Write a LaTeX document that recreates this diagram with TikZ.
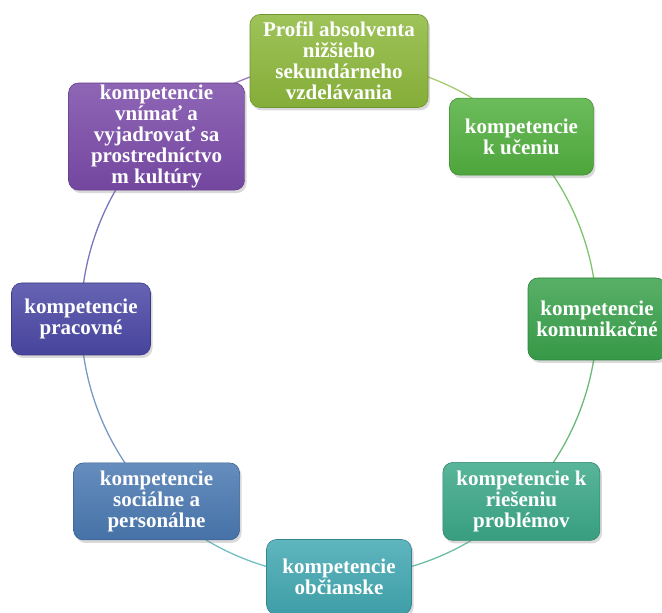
\documentclass[tikz,border=0pt]{standalone}
\usepackage{fontspec}
\setmainfont{Liberation Serif}
\usetikzlibrary{shadows,backgrounds}

\definecolor{profilc}{HTML}{8DB83C}
\definecolor{uceniec}{HTML}{52B03F}
\definecolor{komunc}{HTML}{3AA24C}
\definecolor{riesc}{HTML}{3BA887}
\definecolor{obcc}{HTML}{42A8B2}
\definecolor{socc}{HTML}{4A79B2}
\definecolor{pracc}{HTML}{4B48A6}
\definecolor{kultc}{HTML}{7B4BA9}

\begin{document}
\begin{tikzpicture}[x=1pt, y=1pt,
    box/.style = {shape=rectangle, rounded corners=10pt, align=center, text=white,
                  font=\fontsize{21}{21}\selectfont\bfseries, inner sep=2pt,
                  top color=#1!85!white, bottom color=#1!94!black,
                  draw=#1!80!black, line width=0.6pt,
                  drop shadow={opacity=0.3, shadow xshift=2pt, shadow yshift=-3pt}},
    link/.style = {line width=1.3pt, draw=#1!75!white, bend left=22.5, looseness=0.88}]
  \useasboundingbox (0,0) rectangle (662,613);
  \begin{scope}[shift={(339,294)}]
    \node[box=profilc, minimum width=178pt, minimum height=93pt] (profil) at (90:258)
      {Profil absolventa\\nižšieho\\sekundárneho\\vzdelávania};
    \node[box=uceniec, minimum width=144pt, minimum height=77pt] (ucenie) at (45:258)
      {kompetencie\\k učeniu};
    \node[box=komunc, minimum width=138pt, minimum height=82pt] (komun) at (0:258)
      {kompetencie\\komunikačné};
    \node[box=riesc, minimum width=157pt, minimum height=78pt] (ries) at (-45:258)
      {kompetencie k\\riešeniu\\problémov};
    \node[box=obcc, minimum width=145pt, minimum height=75pt] (obc) at (-90:258)
      {kompetencie\\občianske};
    \node[box=socc, minimum width=166pt, minimum height=77pt] (soc) at (-135:258)
      {kompetencie\\sociálne a\\personálne};
    \node[box=pracc, minimum width=139pt, minimum height=72pt] (prac) at (180:258)
      {kompetencie\\pracovné};
    \node[box=kultc, minimum width=176pt, minimum height=106pt] (kult) at (135:258)
      {kompetencie\\vnímať a\\vyjadrovať sa\\prostredníctvo\\m kultúry};
  \end{scope}
  \begin{scope}[on background layer]
    \draw[link=profilc] (profil.center) to (ucenie.center);
    \draw[link=uceniec] (ucenie.center) to (komun.center);
    \draw[link=komunc] (komun.center) to (ries.center);
    \draw[link=riesc] (ries.center) to (obc.center);
    \draw[link=obcc] (obc.center) to (soc.center);
    \draw[link=socc] (soc.center) to (prac.center);
    \draw[link=pracc] (prac.center) to (kult.center);
    \draw[link=kultc] (kult.center) to (profil.center);
  \end{scope}
\end{tikzpicture}
\end{document}
